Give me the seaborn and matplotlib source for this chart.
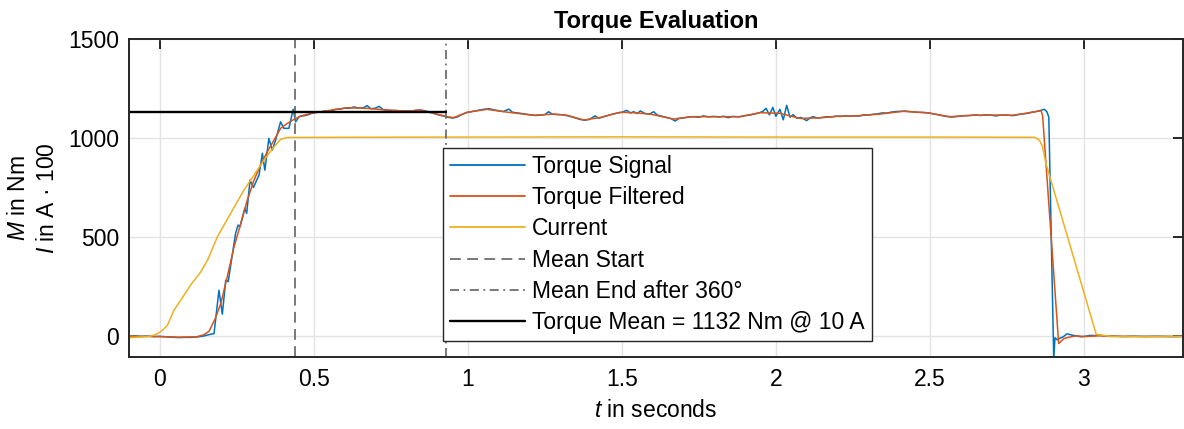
import matplotlib
matplotlib.use("Agg")
import matplotlib.pyplot as plt
import pandas as pd
import seaborn as sns
from matplotlib.lines import Line2D
from matplotlib.ticker import FormatStrFormatter

# ---- measured torque (raw sensor signal) ----
signal_t = [
    -0.100, -0.080, -0.060, -0.040, -0.020, 0.000, 0.020, 0.040, 0.060, 0.080,
    0.100, 0.120, 0.140, 0.160, 0.176,
    0.192, 0.203, 0.214, 0.222, 0.246, 0.254, 0.260, 0.276, 0.282, 0.293,
    0.304, 0.322, 0.333, 0.341, 0.354, 0.365, 0.376, 0.392, 0.403, 0.419,
    0.433, 0.441, 0.452, 0.466, 0.479, 0.492,
    0.510, 0.525, 0.540, 0.555, 0.570, 0.585, 0.600, 0.615, 0.630, 0.645,
    0.660, 0.673, 0.685, 0.700, 0.712, 0.725, 0.740, 0.755, 0.770, 0.785,
    0.800, 0.815, 0.830, 0.845, 0.860, 0.875, 0.890, 0.905, 0.920, 0.935,
    0.950, 0.965, 0.980, 0.995, 1.010, 1.025, 1.040, 1.055, 1.070, 1.085,
    1.100, 1.115, 1.133, 1.145, 1.160, 1.175, 1.190, 1.205, 1.220, 1.235,
    1.250, 1.262, 1.275, 1.290, 1.305, 1.320, 1.335, 1.350, 1.365, 1.380,
    1.395, 1.413, 1.425, 1.440, 1.455, 1.470, 1.485, 1.500, 1.516, 1.528,
    1.538, 1.550, 1.560, 1.575, 1.590, 1.603, 1.615, 1.630, 1.645, 1.660,
    1.673, 1.685, 1.700, 1.715, 1.730, 1.750, 1.765, 1.780, 1.800, 1.815,
    1.830, 1.845, 1.860, 1.880, 1.900, 1.915, 1.930, 1.945, 1.958, 1.968,
    1.979, 1.990, 2.000, 2.013, 2.024, 2.035, 2.046, 2.056, 2.068, 2.080,
    2.090, 2.100, 2.112, 2.121, 2.135, 2.150, 2.165, 2.180, 2.195, 2.210,
    2.225, 2.240, 2.255, 2.270, 2.285, 2.300, 2.315, 2.330, 2.345, 2.360,
    2.375, 2.390, 2.405, 2.420, 2.440, 2.460, 2.480, 2.500, 2.520, 2.540,
    2.555, 2.570, 2.590, 2.610, 2.630, 2.650, 2.665, 2.680, 2.700, 2.715,
    2.730, 2.750, 2.770, 2.785, 2.800, 2.815, 2.830, 2.845, 2.860, 2.872,
    2.880, 2.886, 2.902, 2.906, 2.913, 2.922, 2.932, 2.945, 2.960, 2.975,
    2.990, 3.005, 3.020, 3.035, 3.050, 3.065, 3.080, 3.100, 3.130, 3.160,
    3.200, 3.240, 3.280, 3.320,
]
signal_nm = [
    0, 2, -1, 1, -2, -1, -3, -5, -7, -6,
    -6, -4, 0, 8, 13,
    232, 111, 283, 275, 519, 561, 552, 645, 620, 788,
    751, 813, 923, 838, 998, 939, 990, 1082, 1049, 1049,
    1145, 1082, 1108, 1112, 1116, 1124,
    1130, 1132, 1137, 1136, 1145, 1146, 1151, 1150, 1157, 1152,
    1152, 1164, 1148, 1151, 1160, 1144, 1141, 1139, 1139, 1134,
    1137, 1135, 1140, 1142, 1138, 1132, 1124, 1117, 1111, 1105,
    1101, 1106, 1118, 1128, 1133, 1137, 1142, 1146, 1148, 1142,
    1138, 1134, 1146, 1130, 1127, 1124, 1120, 1117, 1114, 1116,
    1118, 1133, 1120, 1119, 1118, 1114, 1108, 1101, 1094, 1090,
    1094, 1112, 1100, 1107, 1114, 1121, 1126, 1130, 1140, 1126,
    1133, 1124, 1137, 1124, 1121, 1133, 1116, 1110, 1104, 1098,
    1086, 1099, 1102, 1106, 1108, 1105, 1112, 1107, 1109, 1106,
    1110, 1103, 1109, 1107, 1113, 1116, 1121, 1127, 1135, 1150,
    1117, 1155, 1110, 1145, 1092, 1165, 1105, 1118, 1100, 1104,
    1097, 1088, 1103, 1108, 1101, 1104, 1108, 1106, 1111, 1109,
    1112, 1110, 1113, 1111, 1117, 1116, 1120, 1122, 1127, 1126,
    1131, 1134, 1135, 1136, 1133, 1130, 1129, 1126, 1120, 1113,
    1109, 1106, 1109, 1113, 1114, 1117, 1114, 1117, 1115, 1112,
    1116, 1116, 1113, 1118, 1122, 1124, 1130, 1134, 1140, 1145,
    1132, 1105, -115, -8, -18, -10, -4, 12, 6, 2,
    -3, 0, 4, 3, 6, 1, -1, 0, -2, 0,
    -1, 0, -2, -1,
]

# ---- low-pass filtered torque ----
filtered_t = [
    -0.100, 0.000, 0.060, 0.120, 0.144, 0.160, 0.180, 0.198, 0.219, 0.241,
    0.263, 0.284, 0.306, 0.327, 0.349, 0.371, 0.392, 0.414, 0.435, 0.457,
    0.500, 0.543, 0.608, 0.673, 0.738, 0.803, 0.846, 0.889, 0.933, 0.954,
    0.997, 1.062, 1.127, 1.213, 1.278, 1.322, 1.376, 1.430, 1.494, 1.538,
    1.592, 1.667, 1.732, 1.808, 1.883, 1.948, 2.013, 2.078, 2.143, 2.207,
    2.251, 2.337, 2.413, 2.489, 2.564, 2.640, 2.715, 2.769, 2.823, 2.861,
    2.866, 2.918, 2.935, 2.955, 2.975, 3.000, 3.050, 3.100, 3.200, 3.320,
]
filtered_nm = [
    0, -2, -5, -3, 8, 25, 89, 165, 300, 451,
    569, 687, 788, 864, 931, 990, 1049, 1074, 1094, 1111,
    1128, 1138, 1153, 1150, 1141, 1136, 1141, 1125, 1108, 1103,
    1130, 1145, 1131, 1115, 1121, 1115, 1091, 1104, 1130, 1128,
    1121, 1096, 1108, 1108, 1108, 1128, 1125, 1099, 1102, 1111,
    1111, 1121, 1135, 1128, 1108, 1115, 1116, 1115, 1128, 1138,
    1110, -37, -12, -4, 2, -2, 2, 0, -2, -1,
]

# ---- phase current, scaled by 100 ----
current_t = [
    -0.100, -0.050, -0.030, -0.007, 0.009, 0.025, 0.046, 0.068, 0.100, 0.133,
    0.155, 0.187, 0.230, 0.273, 0.306, 0.338, 0.371, 0.392, 0.414, 0.600,
    1.000, 1.500, 2.000, 2.500, 2.840, 2.855, 2.865, 2.877, 3.040, 3.060,
    3.090, 3.200, 3.320,
]
current_scaled = [
    -7, -3, 0, 13, 30, 56, 131, 182, 258, 325,
    384, 502, 620, 737, 813, 889, 956, 993, 1003, 1004,
    1005, 1006, 1005, 1005, 1004, 990, 960, 870, 9, 5,
    -2, -2, -1,
]

# ---- averaging window and result ----
mean_start = 0.44
mean_end = 0.93
torque_mean = 1132
current_amp = 10

x_ticks = [0, 0.5, 1, 1.5, 2, 2.5, 3]
y_ticks = [0, 500, 1000, 1500]

signal_df = pd.DataFrame({"t": signal_t, "value": signal_nm})
filtered_df = pd.DataFrame({"t": filtered_t, "value": filtered_nm})
current_df = pd.DataFrame({"t": current_t, "value": current_scaled})

sns.set_theme(style="whitegrid")
plt.rcParams.update({
    "font.family": ["Liberation Sans", "DejaVu Sans"],
    "mathtext.fontset": "custom",
    "mathtext.rm": "Liberation Sans",
    "mathtext.it": "Liberation Sans:italic",
    "mathtext.bf": "Liberation Sans:bold",
    "axes.edgecolor": "#262626",
    "axes.labelcolor": "black",
    "text.color": "black",
})

c_signal = "#0072BD"
c_filtered = "#D95319"
c_current = "#EDB120"
c_marker = "#6e6e6e"
fs = 16.5

fig = plt.figure(figsize=(11.84, 4.29), dpi=100)
ax = fig.add_axes([129 / 1184, 1 - 357 / 429, (1182.5 - 129) / 1184, (357 - 39) / 429])

sns.lineplot(data=signal_df, x="t", y="value", ax=ax, color=c_signal,
             lw=1.1, estimator=None, sort=False)
sns.lineplot(data=filtered_df, x="t", y="value", ax=ax, color=c_filtered,
             lw=1.1, estimator=None, sort=False)
sns.lineplot(data=current_df, x="t", y="value", ax=ax, color=c_current,
             lw=1.1, estimator=None, sort=False)

start_dash = (6, 3.5)
end_dashdot = (5, 2.5, 1, 2.5)
ax.axvline(mean_start, color=c_marker, lw=1.3, dashes=start_dash)
ax.axvline(mean_end, color=c_marker, lw=1.3, dashes=end_dashdot)
ax.plot([signal_t[0], mean_end], [torque_mean, torque_mean], color="black", lw=1.7)

ax.set_xlim(-0.1, 3.32)
ax.set_ylim(-105, 1500)
ax.set_xticks(x_ticks)
ax.set_yticks(y_ticks)
ax.xaxis.set_major_formatter(FormatStrFormatter("%g"))

ax.grid(True, color="#e3e3e3", lw=1.0)
ax.tick_params(axis="both", which="major", direction="in", length=7.5, width=1.4,
               color="#262626", labelsize=fs, top=True, right=True,
               labelcolor="black")
ax.tick_params(axis="x", pad=8)
ax.tick_params(axis="y", pad=7)
for s in ax.spines.values():
    s.set_visible(True)
    s.set_linewidth(1.4)
    s.set_color("#262626")

ax.set_xlabel("$t$ in seconds", fontsize=fs, labelpad=6)
ax.set_ylabel("$M$ in Nm\n$I$ in A \u00b7 100", fontsize=fs, labelpad=7,
              multialignment="center", linespacing=1.3)
ax.set_title("Torque Evaluation", fontsize=17, fontweight="bold", pad=8)

handles = [
    Line2D([], [], color=c_signal, lw=1.3),
    Line2D([], [], color=c_filtered, lw=1.3),
    Line2D([], [], color=c_current, lw=1.3),
    Line2D([], [], color=c_marker, lw=1.3, dashes=start_dash),
    Line2D([], [], color=c_marker, lw=1.3, dashes=end_dashdot),
    Line2D([], [], color="black", lw=1.7),
]
labels = [
    "Torque Signal",
    "Torque Filtered",
    "Current",
    "Mean Start",
    "Mean End after 360\u00b0",
    f"Torque Mean = {torque_mean} Nm @ {current_amp} A",
]
leg = ax.legend(handles, labels, loc="upper left", bbox_to_anchor=(0.298, 0.657),
                borderaxespad=0, fancybox=False, framealpha=1, fontsize=fs,
                handlelength=3.3, handletextpad=0.3, labelspacing=0.36,
                borderpad=0.3)
leg.get_frame().set_edgecolor("#262626")
leg.get_frame().set_linewidth(1.0)

fig.savefig("out.png", dpi=100)
